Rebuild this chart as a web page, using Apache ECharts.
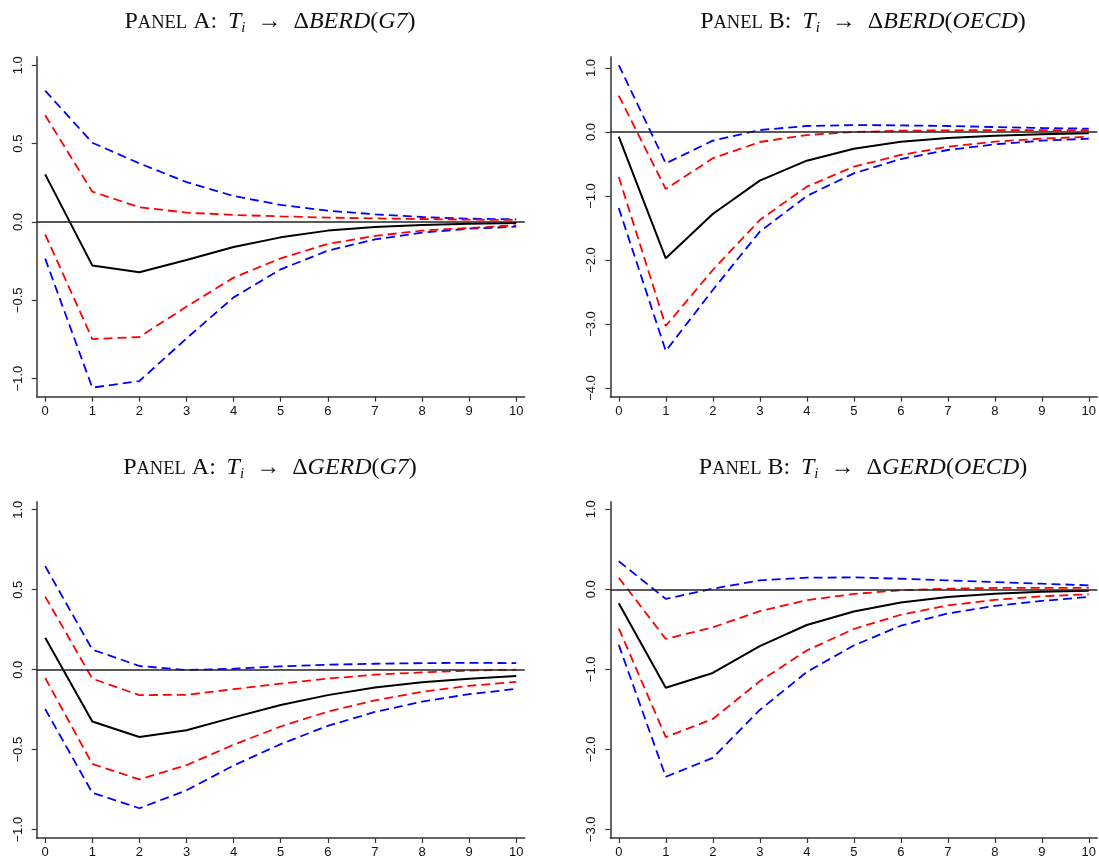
<!DOCTYPE html>
<html>
<head>
<meta charset="utf-8">
<style>
  html, body { margin: 0; padding: 0; background: #fff; }
  #chart { width: 1099px; height: 859px; }
</style>
<script src="https://cdn.jsdelivr.net/npm/echarts@6/dist/echarts.min.js"></script>
</head>
<body>
<div id="chart"></div>
<script>
// horizons of the impulse responses
const horizons = [0, 1, 2, 3, 4, 5, 6, 7, 8, 9, 10];

// Panel A: T_i -> dBERD(G7)
const berdG7Irf  = [0.304, -0.277, -0.321, -0.243, -0.160, -0.098, -0.055, -0.032, -0.019, -0.011, -0.006];
const berdG7Hi68 = [0.681, 0.194, 0.094, 0.060, 0.045, 0.036, 0.028, 0.023, 0.019, 0.015, 0.013];
const berdG7Lo68 = [-0.079, -0.747, -0.734, -0.540, -0.355, -0.232, -0.140, -0.089, -0.055, -0.038, -0.021];
const berdG7Hi95 = [0.838, 0.506, 0.374, 0.255, 0.166, 0.109, 0.072, 0.049, 0.032, 0.021, 0.017];
const berdG7Lo95 = [-0.234, -1.057, -1.015, -0.743, -0.481, -0.302, -0.183, -0.111, -0.068, -0.043, -0.030];

// Panel B: T_i -> dBERD(OECD)
const berdOecdIrf  = [-0.073, -1.974, -1.281, -0.760, -0.448, -0.260, -0.151, -0.094, -0.057, -0.036, -0.021];
const berdOecdHi68 = [0.568, -0.891, -0.411, -0.156, -0.047, 0.000, 0.021, 0.026, 0.031, 0.031, 0.031];
const berdOecdLo68 = [-0.703, -3.031, -2.156, -1.375, -0.854, -0.542, -0.359, -0.229, -0.151, -0.104, -0.073];
const berdOecdHi95 = [1.047, -0.490, -0.135, 0.031, 0.094, 0.109, 0.104, 0.094, 0.078, 0.063, 0.052];
const berdOecdLo95 = [-1.188, -3.422, -2.469, -1.557, -1.000, -0.646, -0.422, -0.281, -0.193, -0.135, -0.104];

// Panel A: T_i -> dGERD(G7)
const gerdG7Irf  = [0.200, -0.324, -0.421, -0.378, -0.298, -0.221, -0.159, -0.112, -0.079, -0.056, -0.039];
const gerdG7Hi68 = [0.457, -0.056, -0.159, -0.157, -0.122, -0.087, -0.056, -0.031, -0.017, -0.006, 0.000];
const gerdG7Lo68 = [-0.052, -0.589, -0.686, -0.597, -0.469, -0.355, -0.262, -0.192, -0.138, -0.101, -0.076];
const gerdG7Hi95 = [0.647, 0.126, 0.023, -0.002, 0.006, 0.021, 0.031, 0.037, 0.041, 0.043, 0.041];
const gerdG7Lo95 = [-0.246, -0.769, -0.866, -0.754, -0.599, -0.465, -0.351, -0.264, -0.200, -0.153, -0.120];

// Panel B: T_i -> dGERD(OECD)
const gerdOecdIrf  = [-0.174, -1.231, -1.045, -0.711, -0.446, -0.277, -0.165, -0.095, -0.054, -0.029, -0.017];
const gerdOecdHi68 = [0.145, -0.620, -0.475, -0.273, -0.136, -0.058, -0.012, 0.008, 0.017, 0.017, 0.017];
const gerdOecdLo68 = [-0.488, -1.847, -1.620, -1.149, -0.764, -0.496, -0.318, -0.202, -0.132, -0.087, -0.062];
const gerdOecdHi95 = [0.351, -0.120, 0.008, 0.112, 0.145, 0.149, 0.132, 0.112, 0.091, 0.070, 0.050];
const gerdOecdLo95 = [-0.694, -2.343, -2.107, -1.508, -1.033, -0.702, -0.455, -0.302, -0.207, -0.145, -0.095];

// tick labels
const yTicksG7 = [-1.0, -0.5, 0.0, 0.5, 1.0];
const yTicksBerdOecd = [-4.0, -3.0, -2.0, -1.0, 0.0, 1.0];
const yTicksGerdOecd = [-3.0, -2.0, -1.0, 0.0, 1.0];

const panels = [
  { grid: { left: 36.7, top: 56.7, width: 488, height: 340 }, yMin: -1.115, yMax: 1.055, ticks: yTicksG7,
    irf: berdG7Irf, hi68: berdG7Hi68, lo68: berdG7Lo68, hi95: berdG7Hi95, lo95: berdG7Lo95 },
  { grid: { left: 610.3, top: 56.7, width: 488, height: 340 }, yMin: -4.136, yMax: 1.177, ticks: yTicksBerdOecd,
    irf: berdOecdIrf, hi68: berdOecdHi68, lo68: berdOecdLo68, hi95: berdOecdHi95, lo95: berdOecdLo95 },
  { grid: { left: 36.7, top: 501.7, width: 488, height: 339 }, yMin: -1.052, yMax: 1.05, ticks: yTicksG7,
    irf: gerdG7Irf, hi68: gerdG7Hi68, lo68: gerdG7Lo68, hi95: gerdG7Hi95, lo95: gerdG7Lo95 },
  { grid: { left: 610.3, top: 501.7, width: 488, height: 339 }, yMin: -3.108, yMax: 1.095, ticks: yTicksGerdOecd,
    irf: gerdOecdIrf, hi68: gerdOecdHi68, lo68: gerdOecdLo68, hi95: gerdOecdHi95, lo95: gerdOecdLo95 }
];

const titles = [
  { x: 270, y: 22, name: 'BERD', region: 'G7', panel: 'A' },
  { x: 863, y: 22, name: 'BERD', region: 'OECD', panel: 'B' },
  { x: 270, y: 468, name: 'GERD', region: 'G7', panel: 'A' },
  { x: 863, y: 468, name: 'GERD', region: 'OECD', panel: 'B' }
];

const axisColor = '#333';
const labelFont = { fontFamily: 'Liberation Sans, Arial, sans-serif', fontSize: 13, color: '#111' };
const fmt = v => v.toFixed(1).replace('-', '\u2212');
const pairs = arr => horizons.map((h, i) => [h, arr[i]]);

const chart = echarts.init(document.getElementById('chart'));

const grids = [], xAxes = [], yAxes = [], series = [];
panels.forEach((p, k) => {
  grids.push(p.grid);
  xAxes.push({
    type: 'value', gridIndex: k, min: -0.18, max: 10.18,
    axisLine: { show: true, onZero: false, lineStyle: { color: axisColor, width: 1.5 } },
    axisTick: { show: true, length: 5, customValues: horizons, lineStyle: { color: axisColor, width: 1.2 } },
    axisLabel: Object.assign({ customValues: horizons, margin: 8, formatter: v => String(v) }, labelFont),
    splitLine: { show: false }
  });
  yAxes.push({
    type: 'value', gridIndex: k, min: p.yMin, max: p.yMax,
    axisLine: { show: true, onZero: false, lineStyle: { color: axisColor, width: 1.5 } },
    axisTick: { show: true, length: 5, customValues: p.ticks, lineStyle: { color: axisColor, width: 1.2 } },
    axisLabel: Object.assign({ customValues: p.ticks, rotate: 90, margin: 12, formatter: fmt }, labelFont),
    splitLine: { show: false }
  });
  const bands = [
    [p.hi95, '#0000ff'], [p.lo95, '#0000ff'],
    [p.hi68, '#ff0000'], [p.lo68, '#ff0000']
  ];
  bands.forEach(([arr, color]) => {
    series.push({
      type: 'line', xAxisIndex: k, yAxisIndex: k, data: pairs(arr),
      symbol: 'none', silent: true,
      lineStyle: { color: color, width: 1.8, type: [9, 5] }
    });
  });
  series.push({
    type: 'line', xAxisIndex: k, yAxisIndex: k, data: pairs(p.irf),
    symbol: 'none', silent: true, z: 3,
    lineStyle: { color: '#000', width: 2 },
    markLine: {
      silent: true, symbol: 'none', label: { show: false },
      lineStyle: { color: '#222', width: 1.5, type: 'solid' },
      data: [{ yAxis: 0 }]
    }
  });
});

// titles: small caps "Panel", math italic for symbols
const serif = 'Liberation Serif, Times New Roman, serif';
const graphic = titles.map(t => ({
  type: 'text', x: t.x, y: t.y,
  style: {
    text: '{n|P}{sc|ANEL}{n| ' + t.panel + ': \u2009}{it|T}{sub|i}{n|\u2002\u2192\u2002\u0394}{it|' + t.name + '}{n|(}{it|' + t.region + '}{n|)}',
    align: 'center', verticalAlign: 'middle',
    rich: {
      n: { fontFamily: serif, fontSize: 24, fill: '#111', lineHeight: 27 },
      sc: { fontFamily: serif, fontSize: 18.5, fill: '#111', lineHeight: 18, verticalAlign: 'bottom', padding: [0, 0, 3, 0] },
      it: { fontFamily: serif, fontSize: 24, fontStyle: 'italic', fill: '#111', lineHeight: 27 },
      sub: { fontFamily: serif, fontSize: 15, fontStyle: 'italic', fill: '#111', lineHeight: 15, verticalAlign: 'bottom' }
    }
  }
}));

chart.setOption({
  animation: false,
  backgroundColor: '#fff',
  grid: grids,
  xAxis: xAxes,
  yAxis: yAxes,
  series: series,
  graphic: graphic
});
</script>
</body>
</html>
